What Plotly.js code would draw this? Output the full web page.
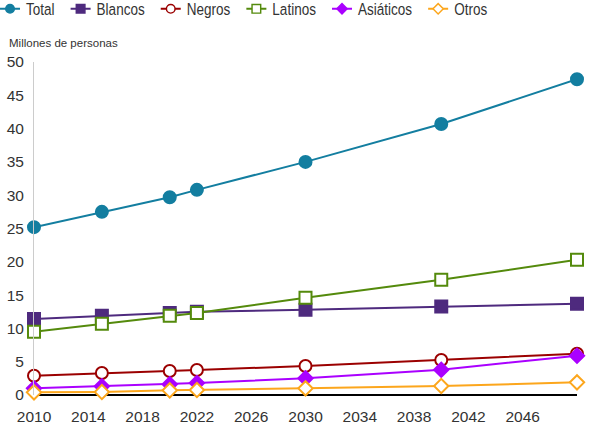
<!DOCTYPE html>
<html>
<head>
<meta charset="utf-8">
<script src="https://cdn.plot.ly/plotly-3.0.1.min.js"></script>
<style>html,body{margin:0;padding:0;background:#fff;}#chart{width:592px;height:427px;}</style>
</head>
<body>
<div id="chart"></div>
<script>
const years = [2010, 2015, 2020, 2022, 2030, 2040, 2050];
const total = [25.2, 27.5, 29.7, 30.8, 35.0, 40.7, 47.4];
const blancos = [11.4, 11.9, 12.3, 12.5, 12.8, 13.3, 13.7];
const negros = [2.9, 3.3, 3.6, 3.75, 4.35, 5.25, 6.2];
const latinos = [9.5, 10.7, 11.9, 12.3, 14.6, 17.3, 20.3];
const asiaticos = [1.0, 1.3, 1.6, 1.8, 2.5, 3.8, 5.9];
const otros = [0.4, 0.45, 0.7, 0.75, 1.0, 1.35, 1.9];
const xTicks = [2010, 2014, 2018, 2022, 2026, 2030, 2034, 2038, 2042, 2046];
const yTicks = [0, 5, 10, 15, 20, 25, 30, 35, 40, 45, 50];

const regular = '"Liberation Sans", Arial, sans-serif';

function tr(name, y, color, symbol, open) {
  return {
    x: years, y: y, name: name, type: 'scatter', mode: 'lines+markers',
    cliponaxis: false,
    line: {color: color, width: 2},
    marker: {color: open ? '#ffffff' : color, symbol: symbol,
             size: symbol === 'diamond' ? 11 : 12,
             line: {color: color, width: 2}}
  };
}

const data = [
  tr('Total', total, '#137ea0', 'circle', false),
  tr('Blancos', blancos, '#4e2a7e', 'square', false),
  tr('Negros', negros, '#9b0000', 'circle', true),
  tr('Latinos', latinos, '#548a0c', 'square', true),
  tr('Asiáticos', asiaticos, '#aa00ff', 'diamond', false),
  tr('Otros', otros, '#fca61c', 'diamond', true)
];

const layout = {
  width: 592, height: 427,
  margin: {l: 34, r: 15, t: 62, b: 32, pad: 0, autoexpand: false},
  paper_bgcolor: '#ffffff', plot_bgcolor: '#ffffff',
  font: {family: regular, color: '#333333', size: 15},
  showlegend: true,
  legend: {
    orientation: 'h', x: -0.081, xanchor: 'left', y: 1.159, yanchor: 'middle',
    font: {family: regular, size: 16.5, color: '#333333'},
    itemsizing: 'trace', itemwidth: 30, bgcolor: 'rgba(0,0,0,0)'
  },
  xaxis: {
    range: [2010, 2050], tickmode: 'array', tickvals: xTicks, ticktext: xTicks.map(String),
    showgrid: false, zeroline: false, showline: false, ticks: '', automargin: false,
    ticklabelstandoff: 10,
    tickfont: {family: regular, size: 15.5, color: '#333333'}
  },
  yaxis: {
    range: [0, 50], tickmode: 'array', tickvals: yTicks, ticktext: yTicks.map(String),
    showgrid: false, zeroline: true, zerolinecolor: '#000000', zerolinewidth: 2,
    showline: true, linecolor: '#cccccc', linewidth: 1, ticks: '', automargin: false,
    ticklabelstandoff: 6,
    tickfont: {family: regular, size: 15.5, color: '#333333'}
  },
  annotations: [{
    text: 'Millones de personas', xref: 'paper', yref: 'paper', x: -0.05, y: 1.057,
    xanchor: 'left', yanchor: 'middle', showarrow: false,
    font: {family: regular, size: 11.5, color: '#333333'}
  }]
};

Plotly.newPlot('chart', data, layout, {displayModeBar: false, staticPlot: true}).then(function (gd) {
  // condense legend entries to match the narrow legend typeface of the reference
  const squeeze = 0.82;
  const items = gd.querySelectorAll('.legend .traces');
  let pos = null;
  items.forEach(function (g) {
    const m = /translate\(([-\d.]+)[ ,]+([-\d.]+)\)/.exec(g.getAttribute('transform') || '');
    const gy = m ? parseFloat(m[2]) : 0;
    if (pos === null) pos = m ? parseFloat(m[1]) : 0;
    const txt = g.querySelector('.legendtext');
    const w = txt.getComputedTextLength() * squeeze;
    txt.setAttribute('x', 36);
    txt.setAttribute('transform', 'translate(36,0) scale(' + squeeze + ',1) translate(-36,0)');
    g.querySelectorAll('.legendlines path').forEach(function (p) { p.setAttribute('d', 'M10,0h20'); });
    g.querySelectorAll('.legendpoints path').forEach(function (p) {
      p.setAttribute('transform', 'translate(20,0) scale(0.72)');
    });
    g.setAttribute('transform', 'translate(' + pos + ',' + gy + ')');
    pos += 36 + w + 6;
  });
});
</script>
</body>
</html>
